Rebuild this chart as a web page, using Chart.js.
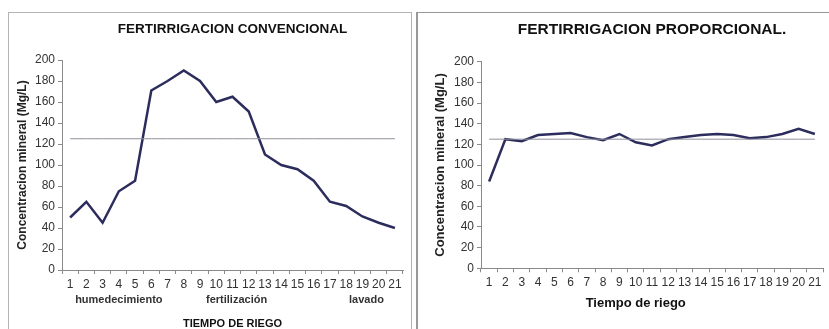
<!DOCTYPE html>
<html>
<head>
<meta charset="utf-8">
<script src="https://cdn.jsdelivr.net/npm/chart.js@4/dist/chart.umd.min.js"></script>
<style>
  html, body { margin: 0; padding: 0; background: #fff; width: 829px; height: 329px; overflow: hidden; }
  .panel { position: absolute; border: 1px solid #b4b4b4; background: #fff; }
  #p1 { left: 8px; top: 12px; width: 402px; height: 340px; }
  #p2 { left: 416px; top: 12px; width: 430px; height: 340px; border-color: #999; border-left-width: 2px; }
  canvas { position: absolute; left: 0; top: 0; }
</style>
</head>
<body>
<div class="panel" id="p1"><canvas id="c1" width="402" height="330"></canvas></div>
<div class="panel" id="p2"><canvas id="c2" width="411" height="330"></canvas></div>
<script>
// riego 1..21
const tiempos = ['1','2','3','4','5','6','7','8','9','10','11','12','13','14','15','16','17','18','19','20','21'];

const convencional = [50, 65, 45, 75, 85, 171, 180, 190, 180, 160, 165, 151, 110, 100, 96, 85, 65, 61, 51, 45, 40];
const proporcional = [84, 125, 123, 129, 130, 131, 127, 124, 130, 122, 119, 125, 127, 129, 130, 129, 126, 127, 130, 135, 130];
// nivel de referencia (125 mg/L)
const referencia = [125, 125, 125, 125, 125, 125, 125, 125, 125, 125, 125, 125, 125, 125, 125, 125, 125, 125, 125, 125, 125];

const yTicks = [0, 20, 40, 60, 80, 100, 120, 140, 160, 180, 200];

const fases = ['humedecimiento', 'fertilización', 'lavado'];
const faseEn = [3, 10.25, 18.25];   // posicion sobre el eje de categorias

const LINE = '#2c2d5c';
const AXIS = '#8a8a8a';

// texto extra debajo del eje x
const bottomText = {
  id: 'bottomText',
  afterDraw(chart, args, opts) {
    const ctx = chart.ctx, x = chart.scales.x;
    ctx.save();
    ctx.font = opts.font;
    ctx.fillStyle = opts.color;
    ctx.textAlign = 'center';
    ctx.textBaseline = 'middle';
    opts.items.forEach(it => ctx.fillText(it.text, x.getPixelForValue(it.at), opts.y));
    ctx.restore();
  }
};

function makeOptions(cfg) {
  return {
    responsive: false,
    animation: false,
    layout: { padding: { left: 0, right: cfg.padRight, top: 0, bottom: 0 } },
    plugins: {
      legend: { display: false },
      tooltip: { enabled: false },
      title: {
        display: true,
        text: cfg.title,
        fullSize: false,
        color: '#111',
        font: { family: 'Arial, "Liberation Sans"', size: cfg.titleSize, weight: 'bold' },
        padding: cfg.titlePad
      },
      bottomText: cfg.bottom
    },
    scales: {
      x: {
        type: 'category',
        offset: true,
        grid: { offset: true, drawOnChartArea: false, drawTicks: true, tickLength: 4, color: AXIS },
        border: { display: true, color: AXIS },
        ticks: {
          autoSkip: false, maxRotation: 0, padding: 3, color: '#333',
          font: { family: 'Arial, "Liberation Sans"', size: 12 }
        },
        title: cfg.xTitle,
        afterFit(scale) { scale.height = cfg.xHeight; }
      },
      y: {
        min: 0, max: 200,
        afterBuildTicks(scale) { scale.ticks = yTicks.map(v => ({ value: v })); },
        grid: { drawOnChartArea: false, drawTicks: true, tickLength: 4, color: AXIS },
        border: { display: true, color: AXIS },
        ticks: { padding: 3, color: '#333', font: { family: 'Arial, "Liberation Sans"', size: 12 } },
        title: {
          display: true,
          text: 'Concentracion mineral (Mg/L)',
          color: '#222',
          font: { family: 'Arial, "Liberation Sans"', size: cfg.yTitleSize, weight: 'bold' },
          padding: { top: cfg.yTitlePad, bottom: 0 }
        },
        afterFit(scale) { scale.width = cfg.yWidth; }
      }
    }
  };
}

function datasets(values) {
  return [
    { data: referencia, borderColor: '#8f8f9c', borderWidth: 1, pointRadius: 0, tension: 0 },
    { data: values, borderColor: LINE, borderWidth: 2.5, pointRadius: 0, tension: 0 }
  ];
}

new Chart(document.getElementById('c1'), {
  type: 'line',
  data: { labels: tiempos, datasets: datasets(convencional) },
  plugins: [bottomText],
  options: makeOptions({
    title: 'FERTIRRIGACION CONVENCIONAL',
    titleSize: 13.5,
    titlePad: { top: 7.9, bottom: 22.9 },
    padRight: 8,
    yWidth: 53,
    yTitleSize: 12,
    yTitlePad: 6.8,
    xHeight: 73,
    xTitle: {
      display: true,
      text: 'TIEMPO DE RIEGO',
      color: '#111',
      font: { family: 'Arial, "Liberation Sans"', size: 11, weight: 'bold' },
      padding: { top: 0, bottom: 12.4 }
    },
    bottom: {
      font: 'bold 11px Arial, "Liberation Sans"',
      color: '#333',
      y: 287,
      items: fases.map((t, i) => ({ text: t, at: faseEn[i] }))
    }
  })
});

new Chart(document.getElementById('c2'), {
  type: 'line',
  data: { labels: tiempos, datasets: datasets(proporcional) },
  plugins: [bottomText],
  options: makeOptions({
    title: 'FERTIRRIGACION PROPORCIONAL.',
    titleSize: 15.5,
    titlePad: { top: 7.7, bottom: 22.4 },
    padRight: 6,
    yWidth: 63,
    yTitleSize: 13,
    yTitlePad: 15,
    xHeight: 74.7,
    xTitle: { display: false },
    bottom: {
      font: 'bold 13px Arial, "Liberation Sans"',
      color: '#111',
      y: 290,
      items: [{ text: 'Tiempo de riego', at: 9 }]
    }
  })
});
</script>
</body>
</html>
